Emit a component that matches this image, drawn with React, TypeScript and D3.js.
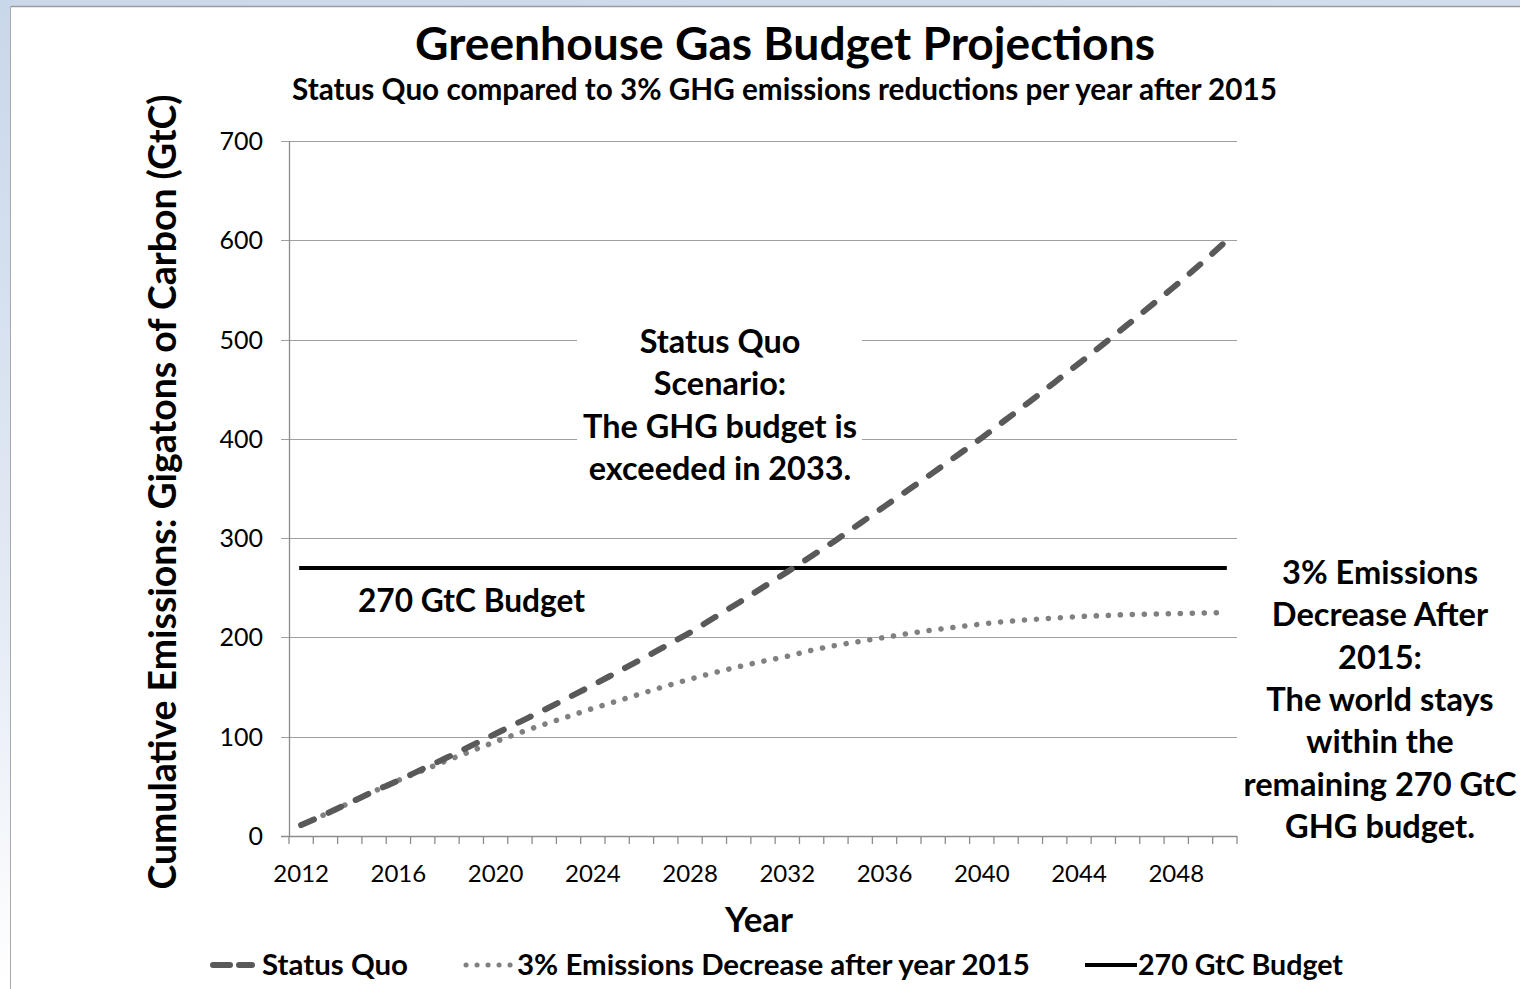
import React, { useLayoutEffect, useRef, useState } from "react";
import * as d3 from "d3";

// ---------------- data ----------------
const years: number[] = [
  2012, 2013, 2014, 2015, 2016, 2017, 2018, 2019, 2020, 2021, 2022, 2023, 2024,
  2025, 2026, 2027, 2028, 2029, 2030, 2031, 2032, 2033, 2034, 2035, 2036, 2037,
  2038, 2039, 2040, 2041, 2042, 2043, 2044, 2045, 2046, 2047, 2048, 2049, 2050,
];
const statusQuo: number[] = [
  11, 22, 33.5, 45, 56, 67.5, 79, 91, 103, 115, 127, 139.5, 152, 165, 178,
  191.5, 205, 220, 235, 250.5, 266, 282, 298, 315, 332, 349, 366, 383.5, 401,
  419.5, 438, 457, 476, 495.5, 515, 535, 555, 576, 598,
];
const reduction3: number[] = [
  11, 22, 33.5, 45, 56, 66, 76, 85.5, 95, 104, 112.5, 120.5, 128.5, 136, 143.5,
  151, 158, 164.5, 170.5, 176, 181, 187, 192, 196, 200, 204, 207.5, 210.5,
  213.5, 216, 218, 219.5, 221, 222, 223, 223.5, 224, 224.5, 225,
];
const budget = 270;
const yTicks: number[] = [0, 100, 200, 300, 400, 500, 600, 700];
const xLabelYears: number[] = [2012, 2016, 2020, 2024, 2028, 2032, 2036, 2040, 2044, 2048];

const title = "Greenhouse Gas Budget Projections";
const subtitle = "Status Quo compared to 3% GHG emissions reductions per year after 2015";
const yTitle = "Cumulative Emissions: Gigatons of Carbon (GtC)";
const xTitle = "Year";
const legendLabels = ["Status Quo", "3% Emissions Decrease after year 2015", "270 GtC Budget"];
const noteStatusQuo = ["Status Quo", "Scenario:", "The GHG budget is", "exceeded in 2033."];
const noteBudget = "270 GtC Budget";
const noteReduction = [
  "3% Emissions",
  "Decrease After",
  "2015:",
  "The world stays",
  "within the",
  "remaining 270 GtC",
  "GHG budget.",
];

// ---------------- helpers ----------------
const FONT = "Lato, 'Open Sans', sans-serif";

function useFit(base: number, target: number, deps: any[]) {
  const ref = useRef<SVGTextElement>(null);
  const [size, setSize] = useState(base);
  useLayoutEffect(() => {
    const measure = () => {
      const el = ref.current;
      if (!el) return;
      const cur = parseFloat(el.getAttribute("font-size") || String(base));
      const len = el.getComputedTextLength();
      if (len > 0) {
        const next = (cur * target) / len;
        if (Math.abs(next - cur) > 0.01) setSize(next);
      }
    };
    measure();
    const f = (document as any).fonts;
    if (f && f.ready) f.ready.then(measure);
  }, deps);
  return { ref, size };
}

function FitText(props: {
  x: number;
  y: number;
  width: number;
  base: number;
  text: string;
  anchor?: string;
  weight?: string | number;
  transform?: string;
}) {
  const { x, y, width, base, text, anchor = "start", weight = "bold", transform } = props;
  const { ref, size } = useFit(base, width, [base, width, text]);
  return (
    <text
      ref={ref}
      x={x}
      y={y}
      fontSize={size}
      fontFamily={FONT}
      fontWeight={weight}
      textAnchor={anchor}
      transform={transform}
      fill="#000"
    >
      {text}
    </text>
  );
}

function FitBlock(props: {
  cx: number;
  y0: number;
  dy: number;
  lines: string[];
  refIndex: number;
  refWidth: number;
  base: number;
}) {
  const { cx, y0, dy, lines, refIndex, refWidth, base } = props;
  const { ref, size } = useFit(base, refWidth, [base, refWidth, lines.join("|")]);
  return (
    <g fontFamily={FONT} fontWeight="bold" textAnchor="middle" fill="#000">
      {lines.map((l, i) => (
        <text key={i} ref={i === refIndex ? ref : undefined} x={cx} y={y0 + i * dy} fontSize={size}>
          {l}
        </text>
      ))}
    </g>
  );
}

// ---------------- chart ----------------
export default function App() {
  const W = 1520;
  const H = 989;
  const left = 289;
  const right = 1237;
  const top = 141;
  const bottom = 836;

  const x = d3.scaleBand<number>().domain(years).range([left, right]).padding(0);
  const y = d3.scaleLinear().domain([0, 700]).range([bottom, top]);
  const cx = (yr: number) => (x(yr) as number) + x.bandwidth() / 2;

  const line = d3
    .line<number>()
    .x((_, i) => cx(years[i]))
    .y((v) => y(v))
    .curve(d3.curveMonotoneX);

  const tickXs = d3.range(years.length + 1).map((i) => left + i * x.bandwidth());

  return (
    <svg
      width={W}
      height={H}
      viewBox={`0 0 ${W} ${H}`}
      style={{ position: "absolute", left: 0, top: 0, display: "block" }}
    >
      <defs>
        <linearGradient id="leftBand" x1="0" y1="0" x2="0" y2="1">
          <stop offset="0" stopColor="#c9d7ea" />
          <stop offset="0.6" stopColor="#e3eaf4" />
          <stop offset="1" stopColor="#ffffff" />
        </linearGradient>
        <linearGradient id="topBand" x1="0" y1="0" x2="1" y2="0">
          <stop offset="0" stopColor="#cad8ea" />
          <stop offset="1" stopColor="#d2deec" />
        </linearGradient>
      </defs>
      <rect x={0} y={0} width={W} height={H} fill="#fff" />
      <rect x={0} y={0} width={W} height={6} fill="url(#topBand)" />
      <rect x={0} y={0} width={10} height={H} fill="url(#leftBand)" />
      <line x1={10.5} y1={6.5} x2={W} y2={6.5} stroke="#9c9c9c" strokeWidth={1.5} />
      <line x1={10.5} y1={6.5} x2={10.5} y2={H} stroke="#a8a8a8" strokeWidth={1} />

      {/* titles */}
      <FitText x={785} y={60} width={740} base={40} text={title} anchor="middle" />
      <FitText x={784.5} y={100} width={985} base={26} text={subtitle} anchor="middle" />

      {/* gridlines */}
      {yTicks
        .filter((t) => t > 0)
        .map((t) => (
          <line key={t} x1={281} x2={right} y1={Math.round(y(t)) + 0.5} y2={Math.round(y(t)) + 0.5} stroke="#a0a0a0" strokeWidth={1.2} />
        ))}

      {/* axes */}
      <line x1={left + 0.5} x2={left + 0.5} y1={top} y2={bottom} stroke="#8c8c8c" strokeWidth={1.3} />
      <line x1={281} x2={right} y1={bottom + 0.5} y2={bottom + 0.5} stroke="#8c8c8c" strokeWidth={1.3} />
      {tickXs.map((tx, i) => (
        <line key={i} x1={tx} x2={tx} y1={bottom} y2={bottom + 8} stroke="#8c8c8c" strokeWidth={1.3} />
      ))}

      {/* tick labels */}
      <g fontFamily={FONT} fontSize={25} fill="#000">
        {yTicks.map((t) => (
          <text key={t} x={263} y={y(t) + 9} textAnchor="end">
            {t}
          </text>
        ))}
      </g>
      <g fontFamily={FONT} fontSize={24} fill="#000">
        {xLabelYears.map((yr) => (
          <text key={yr} x={cx(yr)} y={882} textAnchor="middle">
            {yr}
          </text>
        ))}
      </g>

      {/* axis titles */}
      <FitText x={-492} y={176} width={795} base={32} text={yTitle} anchor="middle" transform="rotate(-90)" />
      <FitText x={759} y={932} width={68} base={32} text={xTitle} anchor="middle" />

      {/* budget line */}
      <line x1={cx(years[0]) - 2} x2={cx(years[years.length - 1]) + 2} y1={y(budget)} y2={y(budget)} stroke="#000" strokeWidth={4} />

      {/* series */}
      <path d={line(reduction3) || ""} fill="none" stroke="#808080" strokeWidth={5.5} strokeDasharray="0.1 11.9" strokeLinecap="round" />
      <path d={line(statusQuo) || ""} fill="none" stroke="#595959" strokeWidth={6} strokeDasharray="14 16" strokeLinecap="round" />

      {/* annotation box: status quo */}
      <rect x={577} y={318} width={285} height={172} fill="#fff" />
      <FitBlock cx={720} y0={353} dy={42.3} lines={noteStatusQuo} refIndex={2} refWidth={274} base={28} />

      <FitText x={358} y={612} width={227} base={28} text={noteBudget} />

      <FitBlock cx={1380} y0={584} dy={42.3} lines={noteReduction} refIndex={5} refWidth={273} base={28} />

      {/* legend */}
      <line x1={213} x2={252} y1={965} y2={965} stroke="#595959" strokeWidth={6} strokeDasharray="17 9" strokeLinecap="round" />
      <FitText x={262} y={975} width={146} base={26} text={legendLabels[0]} />
      <line x1={466} x2={512} y1={965} y2={965} stroke="#808080" strokeWidth={5} strokeDasharray="0.1 10.9" strokeLinecap="round" />
      <FitText x={517} y={975} width={513} base={26} text={legendLabels[1]} />
      <line x1={1085} x2={1137} y1={965} y2={965} stroke="#000" strokeWidth={4} />
      <FitText x={1138} y={975} width={205} base={26} text={legendLabels[2]} />
    </svg>
  );
}
